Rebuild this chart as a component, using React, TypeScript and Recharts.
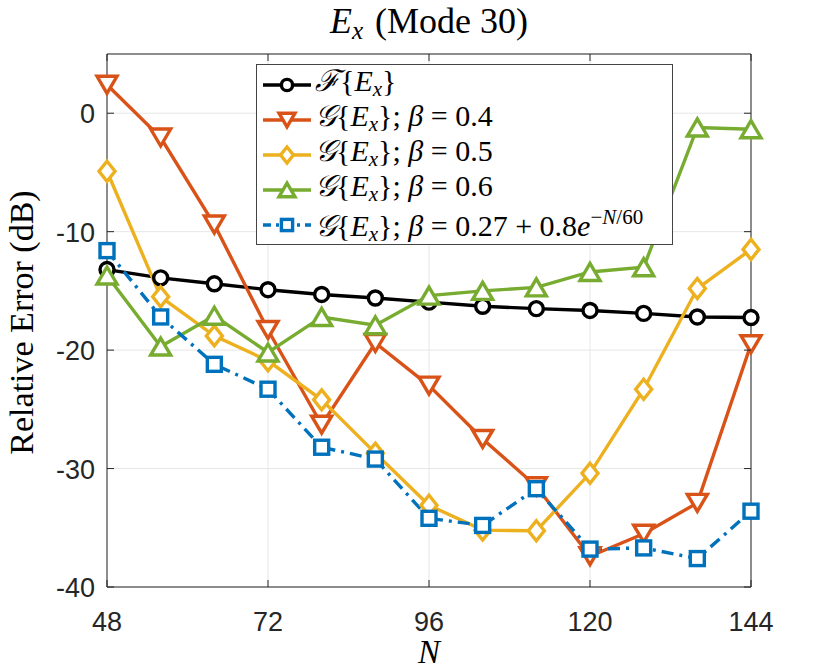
import React from 'react';
import { LineChart, Line, XAxis, YAxis, CartesianGrid, ReferenceLine, Label } from 'recharts';

const nValues = [48, 56, 64, 72, 80, 88, 96, 104, 112, 120, 128, 136, 144];
const fourierErr = [-13.2, -13.9, -14.4, -14.9, -15.3, -15.6, -15.95, -16.3, -16.5, -16.65, -16.9, -17.2, -17.25];
const beta04Err = [2.4, -2.05, -9.4, -18.3, -26.3, -19.4, -23.0, -27.5, -31.5, -37.4, -35.5, -32.9, -19.5];
const beta05Err = [-4.9, -15.5, -18.8, -20.9, -24.2, -28.7, -33.1, -35.2, -35.25, -30.4, -23.3, -14.8, -11.5];
const beta06Err = [-13.7, -19.7, -17.1, -20.2, -17.2, -17.9, -15.4, -15.0, -14.7, -13.4, -13.0, -1.2, -1.35];
const betaExpErr = [-11.6, -17.2, -21.2, -23.3, -28.2, -29.2, -34.2, -34.8, -31.7, -36.8, -36.7, -37.6, -33.6];

const xTicks = [48, 72, 96, 120, 144];
const yTicks = [-40, -30, -20, -10, 0];

const data = nValues.map((n, i) => ({
  n,
  f: fourierErr[i],
  g04: beta04Err[i],
  g05: beta05Err[i],
  g06: beta06Err[i],
  gexp: betaExpErr[i],
}));

// plot box in page pixels
const PLOT = { left: 107, top: 54, right: 751, bottom: 587 };
const AXIS = '#262626';
const SERIF = '"Liberation Serif", "DejaVu Serif", serif';
const SANS = '"Liberation Sans", Arial, sans-serif';
const LW = 3.4;

type Shape = 'circle' | 'down' | 'diamond' | 'up' | 'square';

function Marker({ cx, cy, shape, color, s = 1 }: { cx: number; cy: number; shape: Shape; color: string; s?: number }) {
  const common = { stroke: color, strokeWidth: LW, fill: '#fff' };
  if (shape === 'circle') return <circle cx={cx} cy={cy} r={7 * s} {...common} />;
  if (shape === 'square') return <rect x={cx - 7 * s} y={cy - 7 * s} width={14 * s} height={14 * s} {...common} />;
  if (shape === 'diamond') {
    const w = 8 * s, h = 10 * s;
    return <polygon points={`${cx},${cy - h} ${cx + w},${cy} ${cx},${cy + h} ${cx - w},${cy}`} {...common} />;
  }
  const w = 10 * s, h = 8.5 * s;
  if (shape === 'down') return <polygon points={`${cx - w},${cy - h} ${cx + w},${cy - h} ${cx},${cy + h}`} {...common} />;
  return <polygon points={`${cx - w},${cy + h} ${cx + w},${cy + h} ${cx},${cy - h}`} {...common} />;
}

const dotOf = (shape: Shape, color: string) => (p: any) => (
  <Marker key={`${shape}-${p.index}`} cx={p.cx} cy={p.cy} shape={shape} color={color} />
);

const XTick = ({ x, payload }: any) => (
  <g>
    <line x1={x} x2={x} y1={PLOT.bottom} y2={PLOT.bottom - 7} stroke={AXIS} />
    <line x1={x} x2={x} y1={PLOT.top} y2={PLOT.top + 7} stroke={AXIS} />
    <text x={x} y={631} textAnchor="middle" fill={AXIS} fontFamily={SANS} fontSize={27}>
      {payload.value}
    </text>
  </g>
);

const YTick = ({ y, payload }: any) => (
  <g>
    <line x1={PLOT.left} x2={PLOT.left + 7} y1={y} y2={y} stroke={AXIS} />
    <line x1={PLOT.right} x2={PLOT.right - 7} y1={y} y2={y} stroke={AXIS} />
    <text x={95} y={y + 10} textAnchor="end" fill={AXIS} fontFamily={SANS} fontSize={27}>
      {payload.value}
    </text>
  </g>
);

const series = [
  { key: 'f', color: '#000000', shape: 'circle' as Shape, dash: undefined },
  { key: 'g04', color: '#D95319', shape: 'down' as Shape, dash: undefined },
  { key: 'g05', color: '#EDB120', shape: 'diamond' as Shape, dash: undefined },
  { key: 'g06', color: '#77AC30', shape: 'up' as Shape, dash: undefined },
  { key: 'gexp', color: '#0072BD', shape: 'square' as Shape, dash: '12 6 3 6' },
];

const G = () => <span style={{ fontFamily: '"DejaVu Serif", serif', fontStyle: 'italic' }}>𝒢</span>;
const Ex = () => (
  <>
    {'{'}<i>E</i><sub style={{ fontSize: '0.7em', fontStyle: 'italic', verticalAlign: '-0.25em' }}>x</sub>{'}'}
  </>
);

const legendLabels: React.ReactNode[] = [
  <>
    <span style={{ fontFamily: '"DejaVu Serif", serif', fontStyle: 'italic' }}>ℱ</span>
    <Ex />
  </>,
  <>
    <G /><Ex />; <i>β</i> = 0.4
  </>,
  <>
    <G /><Ex />; <i>β</i> = 0.5
  </>,
  <>
    <G /><Ex />; <i>β</i> = 0.6
  </>,
  <>
    <G /><Ex />; <i>β</i> = 0.27 + 0.8<i>e</i>
    <sup style={{ fontSize: '0.7em', verticalAlign: '0.55em' }}>
      −<i>N</i>/60
    </sup>
  </>,
];

function LegendBox() {
  return (
    <div
      style={{
        position: 'absolute',
        left: 256,
        top: 64,
        width: 417,
        height: 181,
        background: '#fff',
        border: '1px solid #444',
        boxSizing: 'border-box',
        fontFamily: SERIF,
        fontSize: 30,
        color: '#000',
      }}
    >
      {series.map((s, i) => (
        <div key={s.key} style={{ position: 'absolute', left: 0, top: 20 + i * 35 - 17, height: 34, display: 'flex', alignItems: 'center', whiteSpace: 'nowrap' }}>
          <svg width={58} height={34} style={{ flex: 'none' }}>
            <line x1={6} x2={54} y1={17} y2={17} stroke={s.color} strokeWidth={LW} strokeDasharray={s.dash ? '8 5 3 5' : undefined} />
            <Marker cx={30} cy={17} shape={s.shape} color={s.color} s={0.8} />
          </svg>
          <span style={{ lineHeight: '34px' }}>{legendLabels[i]}</span>
        </div>
      ))}
    </div>
  );
}

export default function App() {
  return (
    <div style={{ position: 'absolute', left: 0, top: 0, width: 830, height: 672, background: '#fff' }}>
      <LineChart width={830} height={672} data={data} margin={{ top: PLOT.top, right: 830 - PLOT.right, left: 0, bottom: 0 }}>
        <CartesianGrid stroke="#e6e6e6" strokeWidth={1} />
        <XAxis
          dataKey="n"
          type="number"
          domain={[48, 144]}
          ticks={xTicks}
          height={672 - PLOT.bottom}
          axisLine={{ stroke: AXIS }}
          tickLine={false}
          tick={<XTick />}
          interval={0}
        >
          <Label
            content={({ viewBox }: any) => (
              <text x={viewBox.x + viewBox.width / 2} y={663} textAnchor="middle" fontFamily={SERIF} fontStyle="italic" fontSize={33} fill="#000">
                N
              </text>
            )}
          />
        </XAxis>
        <YAxis
          type="number"
          domain={[-40, 5]}
          ticks={yTicks}
          width={PLOT.left}
          axisLine={{ stroke: AXIS }}
          tickLine={false}
          tick={<YTick />}
          interval={0}
          allowDataOverflow
        >
          <Label
            content={({ viewBox }: any) => {
              const cy = viewBox.y + viewBox.height / 2 + 2;
              return (
                <text x={33} y={cy} transform={`rotate(-90, 33, ${cy})`} textAnchor="middle" fontFamily={SERIF} fontSize={34} fill="#000">
                  Relative Error (dB)
                </text>
              );
            }}
          />
        </YAxis>
        <ReferenceLine x={144} stroke={AXIS} ifOverflow="extendDomain" />
        <ReferenceLine y={5} stroke={AXIS} ifOverflow="extendDomain" />
        {series.map((s) => (
          <Line
            key={s.key}
            dataKey={s.key}
            type="linear"
            stroke={s.color}
            strokeWidth={LW}
            strokeDasharray={s.dash}
            dot={dotOf(s.shape, s.color)}
            activeDot={false}
            isAnimationActive={false}
          />
        ))}
      </LineChart>
      <div
        style={{
          position: 'absolute',
          left: 0,
          top: 0,
          width: 2 * 429,
          textAlign: 'center',
          fontFamily: SERIF,
          fontSize: 36,
          lineHeight: '42px',
          color: '#000',
        }}
      >
        <i>E</i>
        <sub style={{ fontSize: '0.7em', fontStyle: 'italic', verticalAlign: '-0.25em' }}>x</sub>
        <span style={{ marginLeft: 12 }}>(Mode 30)</span>
      </div>
      <LegendBox />
    </div>
  );
}
